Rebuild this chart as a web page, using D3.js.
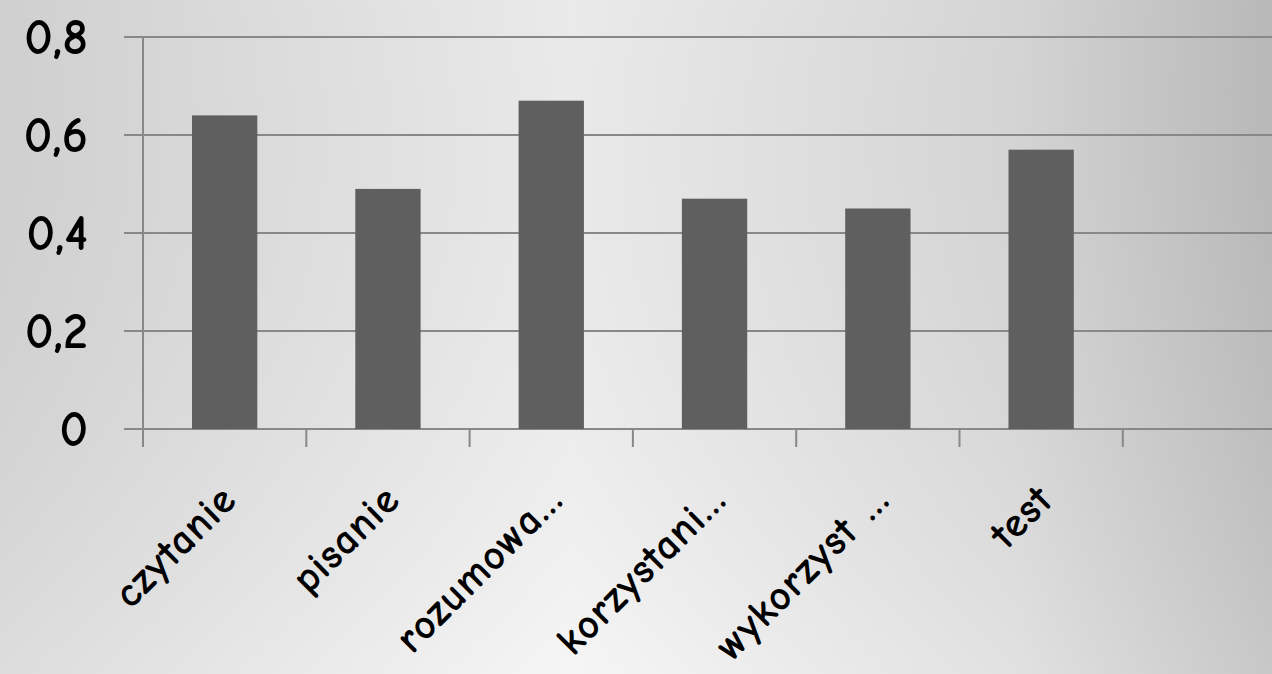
<!DOCTYPE html>
<meta charset="utf-8">
<head>
<style>
body{ margin:0; }
text{ font-family:"Comic Sans MS","Comic Neue","DejaVu Sans",sans-serif; fill:#000; font-weight:bold; }
.grid line{ stroke:#888; stroke-width:2px; }
.ylab{ font-size:50px; text-anchor:end; }
.xlab{ font-size:42px; text-anchor:end; letter-spacing:1px; }
.bar{ fill:#5f5f5f; }
</style>
</head>
<body>
<script src="https://d3js.org/d3.v7.min.js"></script>
<script>
var categories=["czytanie","pisanie","rozumowa…","korzystani…","wykorzyst …","test",""];
var values=[0.64,0.49,0.67,0.47,0.45,0.57,null];
var yTicks=[0,0.2,0.4,0.6,0.8];
var yTickLabels=["0","0,2","0,4","0,6","0,8"];

var W=1272,H=674;
var svg=d3.select("body").append("svg").attr("width",W).attr("height",H);

var defs=svg.append("defs");
var lg=defs.append("linearGradient").attr("id","bgx").attr("x1","0").attr("x2","1").attr("y1","0").attr("y2","0");
lg.append("stop").attr("offset","0").attr("stop-color","#d8d8d8");
lg.append("stop").attr("offset","0.45").attr("stop-color","#f4f4f4");
lg.append("stop").attr("offset","0.8").attr("stop-color","#dddddd");
lg.append("stop").attr("offset","1").attr("stop-color","#c0c0c0");
var vg=defs.append("linearGradient").attr("id","bgy").attr("x1","0").attr("x2","0").attr("y1","0").attr("y2","1");
vg.append("stop").attr("offset","0").attr("stop-color","#000").attr("stop-opacity",0.04);
vg.append("stop").attr("offset","1").attr("stop-color","#fff").attr("stop-opacity",0.12);
svg.append("rect").attr("width",W).attr("height",H).attr("fill","url(#bgx)");
svg.append("rect").attr("width",W).attr("height",H).attr("fill","url(#bgy)");

var x=d3.scaleBand().domain(d3.range(categories.length)).range([143,143+163.3*7]).paddingInner(0.6).paddingOuter(0.3);
var slot=d3.scaleLinear().domain([0,categories.length]).range([143,143+163.3*7]);
var y=d3.scaleLinear().domain([0,0.8]).range([429,37]);

var grid=svg.append("g").attr("class","grid");
grid.selectAll(".h").data(yTicks).enter().append("line")
	.attr("x1",124).attr("x2",W).attr("y1",d=>y(d)).attr("y2",d=>y(d));
grid.append("line").attr("x1",143).attr("x2",143).attr("y1",y(0.8)).attr("y2",447);
grid.selectAll(".t").data(d3.range(1,categories.length+1)).enter().append("line")
	.attr("x1",d=>slot(d)).attr("x2",d=>slot(d)).attr("y1",y(0)).attr("y2",447);

svg.selectAll(".bar").data(values).enter().filter(d=>d!=null).append("rect").attr("class","bar")
	.attr("x",(d,i)=>x(i)).attr("width",x.bandwidth())
	.attr("y",d=>y(d)).attr("height",d=>y(0)-y(d));

svg.selectAll(".ylab").data(yTicks).enter().append("text").attr("class","ylab")
	.attr("x",88).attr("y",d=>y(d)+17).text((d,i)=>yTickLabels[i]);

svg.selectAll(".xlab").data(categories).enter().append("text").attr("class","xlab")
	.attr("transform",(d,i)=>"translate("+(x(i)+x.bandwidth()/2+14)+",502) rotate(-45)")
	.text(d=>d);
</script>
</body>
</html>
